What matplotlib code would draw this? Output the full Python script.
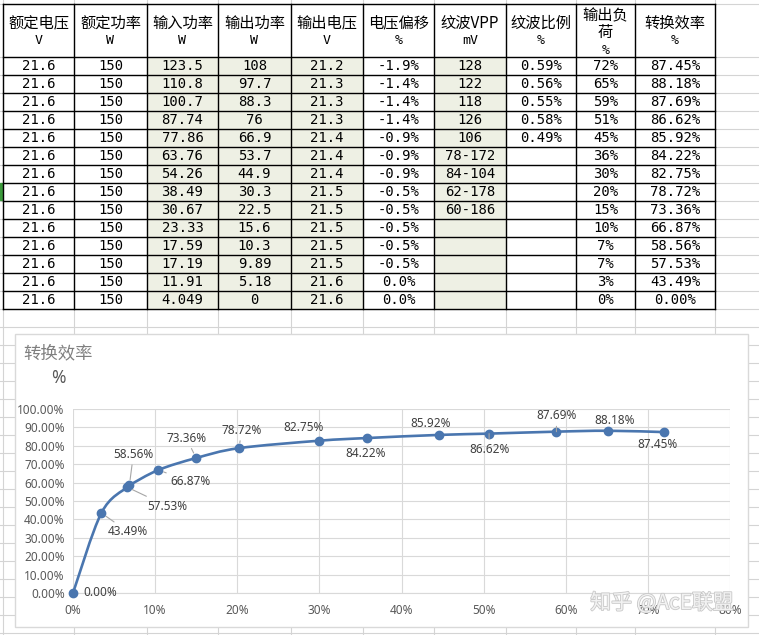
import matplotlib
matplotlib.use("Agg")
import matplotlib.pyplot as plt
import matplotlib.patheffects as pe
from matplotlib.patches import Rectangle
from matplotlib.path import Path
from matplotlib.patches import PathPatch
from matplotlib.ticker import FuncFormatter

plt.rcParams['font.family'] = ['Noto Sans CJK SC', 'DejaVu Sans']

# table data
headers = ["额定电压\nV", "额定功率\nW", "输入功率\nW", "输出功率\nW", "输出电压\nV",
           "电压偏移\n%", "纹波VPP\nmV", "纹波比例\n%", "输出负\n荷\n%", "转换效率\n%"]
rated_v = [21.6] * 14
rated_p = [150] * 14
in_power = [123.5, 110.8, 100.7, 87.74, 77.86, 63.76, 54.26, 38.49, 30.67, 23.33, 17.59, 17.19, 11.91, 4.049]
out_power = [108, 97.7, 88.3, 76, 66.9, 53.7, 44.9, 30.3, 22.5, 15.6, 10.3, 9.89, 5.18, 0]
out_volt = [21.2, 21.3, 21.3, 21.3, 21.4, 21.4, 21.4, 21.5, 21.5, 21.5, 21.5, 21.5, 21.6, 21.6]
v_offset = [-1.9, -1.4, -1.4, -1.4, -0.9, -0.9, -0.9, -0.5, -0.5, -0.5, -0.5, -0.5, 0.0, 0.0]
ripple = ["128", "122", "118", "126", "106", "78-172", "84-104", "62-178", "60-186", "", "", "", "", ""]
ripple_ratio = [0.59, 0.56, 0.55, 0.58, 0.49, None, None, None, None, None, None, None, None, None]
load_pct = [72, 65, 59, 51, 45, 36, 30, 20, 15, 10, 7, 7, 3, 0]
efficiency = [87.45, 88.18, 87.69, 86.62, 85.92, 84.22, 82.75, 78.72, 73.36, 66.87, 58.56, 57.53, 43.49, 0.00]

# chart x = output power / rated power
load = [po / pr for po, pr in zip(out_power, rated_p)]

W, H = 759, 635
fig = plt.figure(figsize=(W / 100, H / 100), dpi=100)
bg = fig.add_axes([0, 0, 1, 1])
bg.set_xlim(0, W)
bg.set_ylim(H, 0)
bg.axis('off')

col_x = [3, 74, 147, 218, 291, 363, 434, 506, 576, 635, 715]
head_top, head_bot, row_h = 4, 57, 18
n = len(efficiency)
row_y = [head_bot + i * row_h for i in range(n + 1)]
grid_c = '#d4d4d4'

# spreadsheet grey grid
for y in [head_top] + row_y + [309 + 18 * k for k in range(1, 20)]:
    bg.plot([0, W], [y, y], color=grid_c, lw=0.8, zorder=0)
for x in col_x:
    bg.plot([x, x], [0, H], color=grid_c, lw=0.8, zorder=0)
bg.add_patch(Rectangle((0, 183), 1.5, 17, color='#3c9a3c', zorder=1))

# shaded columns
for ci in [2, 3, 4, 6]:
    bg.add_patch(Rectangle((col_x[ci], head_bot), col_x[ci + 1] - col_x[ci], row_y[-1] - head_bot,
                           facecolor='#eef0e4', edgecolor='none', zorder=1))

# black borders
for y in [head_top] + row_y:
    bg.plot([col_x[0], col_x[-1]], [y, y], color='black', lw=1.0, zorder=2)
for x in col_x:
    bg.plot([x, x], [head_top, row_y[-1]], color='black', lw=1.0, zorder=2)

mono = ['DejaVu Sans Mono', 'Noto Sans CJK SC']
for ci, h in enumerate(headers):
    cx = (col_x[ci] + col_x[ci + 1]) / 2
    lines = h.split("\n")
    ys = [15, 32, 50] if len(lines) == 3 else [23, 41]
    for ln, yy in zip(lines, ys):
        is_unit = ln in ("V", "W", "%", "mV")
        bg.text(cx, yy, ln, ha='center', va='center', zorder=3,
                fontsize=9.5 if is_unit else 11, family=mono if is_unit else ['Noto Sans CJK SC'])

for i in range(n):
    cells = [f"{rated_v[i]:g}", f"{rated_p[i]:g}", f"{in_power[i]:g}", f"{out_power[i]:g}",
             f"{out_volt[i]:g}", f"{v_offset[i]:.1f}%", ripple[i],
             "" if ripple_ratio[i] is None else f"{ripple_ratio[i]:.2f}%",
             f"{load_pct[i]}%", f"{efficiency[i]:.2f}%"]
    yc = row_y[i] + row_h / 2 + 0.5
    for ci, s in enumerate(cells):
        cx = (col_x[ci] + col_x[ci + 1]) / 2
        bg.text(cx, yc, s, ha='center', va='center', fontsize=10, family=mono, zorder=3)

# chart frame
bg.add_patch(Rectangle((15, 334), 733, 293, facecolor='white', edgecolor='#d9d9d9', lw=1, zorder=4))
bg.text(58, 353, "转换效率", ha='center', va='center', fontsize=12.5, color='#7f7f7f', zorder=5)
bg.text(58, 378, "%", ha='center', va='center', fontsize=12.5, color='#595959', zorder=5,
        family=['Noto Sans'])

ax = fig.add_axes([73 / W, (H - 593) / H, 657 / W, 184 / H])
ax.set_zorder(6)
ax.patch.set_alpha(0)
ax.set_xlim(0, 0.8)
ax.set_ylim(0, 1)
ax.set_xticks([i / 10 for i in range(9)])
ax.set_yticks([i / 10 for i in range(11)])
ax.xaxis.set_major_formatter(FuncFormatter(lambda v, p: f"{v:.0%}"))
ax.yaxis.set_major_formatter(FuncFormatter(lambda v, p: f"{v:.2%}"))
ax.grid(True, color='#d9d9d9', lw=0.8)
ax.set_axisbelow(True)
for s in ax.spines.values():
    s.set_visible(False)
ax.spines['bottom'].set_visible(True)
ax.spines['bottom'].set_color('#d9d9d9')
ax.tick_params(length=0, labelsize=8.5, colors='#595959', pad=8)
ax.tick_params(axis='y', pad=6)
for lab in ax.get_xticklabels() + ax.get_yticklabels():
    lab.set_family('Noto Sans')

eff = [e / 100 for e in efficiency]
pts = sorted(zip(load, eff))
xs = [p[0] for p in pts]
ys = [p[1] for p in pts]

# smoothed line like the spreadsheet (Catmull-Rom as Bezier segments)
verts = [(xs[0], ys[0])]
codes = [Path.MOVETO]
m = len(xs)
for i in range(m - 1):
    x0, y0 = (xs[i - 1], ys[i - 1]) if i > 0 else (xs[i], ys[i])
    x3, y3 = (xs[i + 2], ys[i + 2]) if i + 2 < m else (xs[i + 1], ys[i + 1])
    c1 = (xs[i] + (xs[i + 1] - x0) / 6, ys[i] + (ys[i + 1] - y0) / 6)
    c2 = (xs[i + 1] - (x3 - xs[i]) / 6, ys[i + 1] - (y3 - ys[i]) / 6)
    verts += [c1, c2, (xs[i + 1], ys[i + 1])]
    codes += [Path.CURVE4] * 3
line_c = '#4a76af'
ax.add_patch(PathPatch(Path(verts, codes), facecolor='none', edgecolor=line_c, lw=1.9,
                       capstyle='round', zorder=3))
ax.plot(load, eff, 'o', color=line_c, ms=6, zorder=4, clip_on=False)

# label offsets in pixels (dx, dy up), leader line flag
label_pos = {
    0.00: (27, 0, False), 43.49: (27, -19, True), 57.53: (40, -19, True),
    58.56: (4, 31, True), 66.87: (32, -12, True), 73.36: (-10, 20, True),
    78.72: (3, 18, True), 82.75: (-15, 13, False), 84.22: (-1, -15, False),
    85.92: (-9, 11, False), 86.62: (0, -16, True), 87.69: (0, 16, True),
    88.18: (7, 10, False), 87.45: (-7, -12, False),
}
for x, e, pct in zip(load, eff, efficiency):
    dx, dy, lead = label_pos[pct]
    ap = dict(arrowstyle='-', color='#a6a6a6', lw=0.8, shrinkA=1, shrinkB=4) if lead else None
    ax.annotate(f"{pct:.2f}%", (x, e), xytext=(dx, dy), textcoords='offset pixels',
                ha='center', va='center', fontsize=8.5, color='#404040', family=['Noto Sans'],
                arrowprops=ap, zorder=5, annotation_clip=False)

# watermark
bg2 = fig.add_axes([0, 0, 1, 1])
bg2.set_xlim(0, W)
bg2.set_ylim(H, 0)
bg2.axis('off')
bg2.set_zorder(7)
bg2.text(662, 603, "知乎 @AcE联盟", ha='center', va='center', fontsize=15, color='#f2f2f2',
         path_effects=[pe.withStroke(linewidth=1.2, foreground='#c8c8c8')])

fig.savefig("out.png", dpi=100)
